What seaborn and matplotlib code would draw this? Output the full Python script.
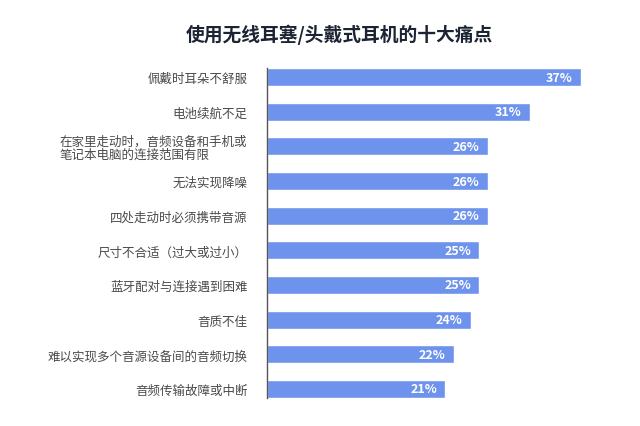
import matplotlib
matplotlib.use('Agg')

import pandas as pd
import matplotlib.pyplot as plt
import seaborn as sns

# Data
pain_points = [
    '佩戴时耳朵不舒服',
    '电池续航不足',
    '在家里走动时，音频设备和手机或\n笔记本电脑的连接范围有限',
    '无法实现降噪',
    '四处走动时必须携带音源',
    '尺寸不合适（过大或过小）',
    '蓝牙配对与连接遇到困难',
    '音质不佳',
    '难以实现多个音源设备间的音频切换',
    '音频传输故障或中断',
]
shares = [37, 31, 26, 26, 26, 25, 25, 24, 22, 21]
title = '使用无线耳塞/头戴式耳机的十大痛点'

df = pd.DataFrame({'item': pain_points, 'share': shares})

sns.set_style('white')
plt.rcParams['font.family'] = ['Noto Sans CJK SC', 'DejaVu Sans']

fig = plt.figure(figsize=(6.4, 4.27), dpi=100)
ax = fig.add_axes([0.417, 0.066, 0.531, 0.772])

bar_color = '#6E93EC'
sns.barplot(data=df, y='item', x='share', orient='h', color=bar_color,
            width=0.52, saturation=1, ax=ax)

ax.set_xlim(0, 40)
ax.set_ylim(9.26, -0.26)
ax.set_xlabel('')
ax.set_ylabel('')
ax.set_xticks([])
for s in ['top', 'right', 'bottom']:
    ax.spines[s].set_visible(False)
ax.spines['left'].set_color('#555555')
ax.spines['left'].set_linewidth(1.0)

ax.tick_params(axis='y', length=0, pad=14, labelsize=9, labelcolor='#4a4a4a')
for lab in ax.get_yticklabels():
    lab.set_multialignment('left')
    lab.set_linespacing(1.0)

# value labels inside the bar ends
for i, v in enumerate(shares):
    ax.annotate(f'{v}%', xy=(v, i), xytext=(-6, 0), textcoords='offset points',
                ha='right', va='center', color='white', fontsize=9,
                fontweight='bold')

fig.text(0.531, 0.918, title, ha='center', va='center', fontsize=13.5,
         fontweight='bold', color='#1c2433')

fig.savefig('out.png', dpi=100)
plt.close(fig)
